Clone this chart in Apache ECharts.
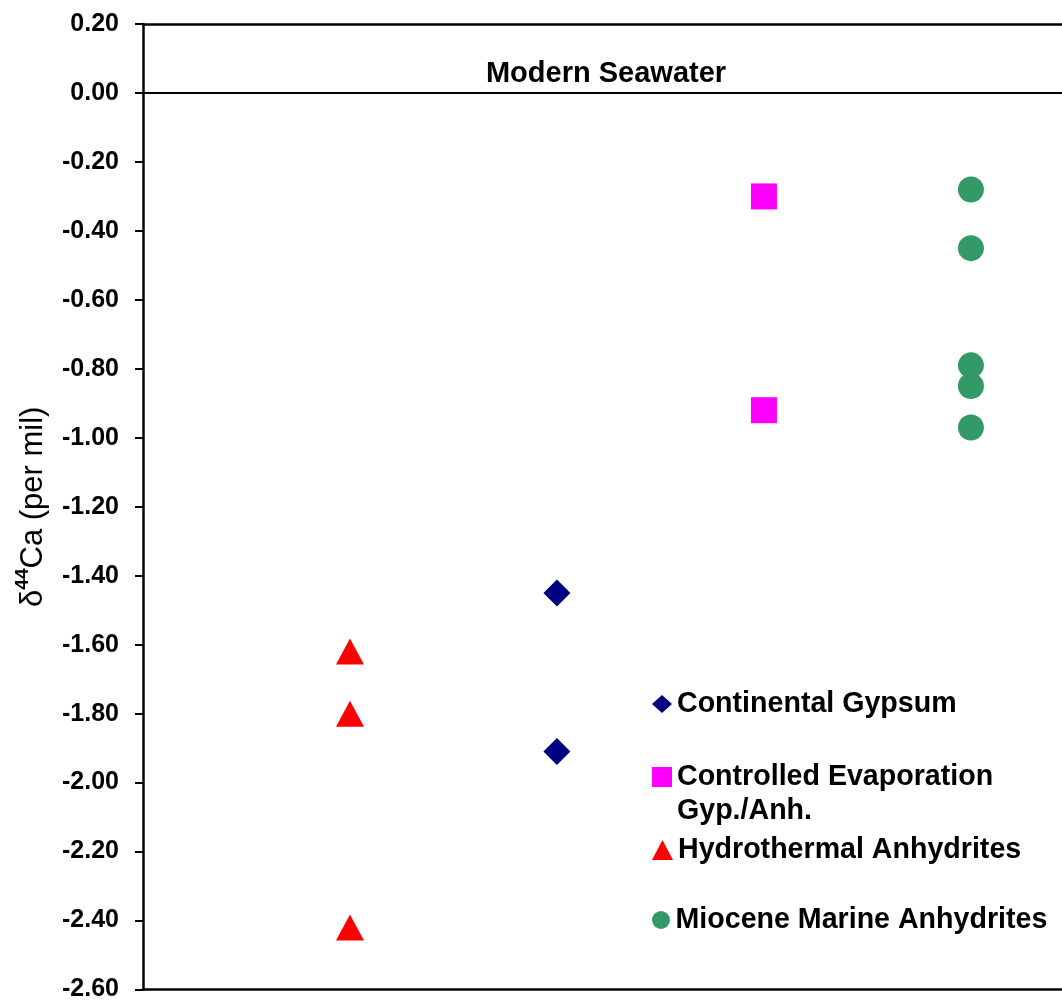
<!DOCTYPE html>
<html>
<head>
<meta charset="utf-8">
<script src="https://cdn.jsdelivr.net/npm/echarts@6/dist/echarts.min.js"></script>
<style>
html,body{margin:0;padding:0;background:#fff;}
#chart{width:1062px;height:1002px;}
</style>
</head>
<body>
<div id="chart"></div>
<script>
// ---- data ----
const seriesNames = ['Continental Gypsum', 'Controlled Evaporation Gyp./Anh.', 'Hydrothermal Anhydrites', 'Miocene Marine Anhydrites'];
const continentalGypsum = [[2, -1.45], [2, -1.91]];
const controlledEvaporation = [[3, -0.30], [3, -0.92]];
const hydrothermalAnhydrites = [[1, -1.62], [1, -1.80], [1, -2.42]];
const mioceneMarineAnhydrites = [[4, -0.28], [4, -0.45], [4, -0.79], [4, -0.85], [4, -0.97]];
const seawaterValue = 0.0;
const seawaterLabel = 'Modern Seawater';
const seawaterLabelX = 2.237;
const xMin = 0, xMax = 4.44;
const yMin = -2.6, yMax = 0.2, yStep = 0.2;

const FONT = '"Liberation Sans", Arial, sans-serif';
const colors = ['#000080', '#FF00FF', '#FF0000', '#339966'];
const symbols = ['diamond', 'rect', 'triangle', 'circle'];
const sizes = [27, 26, [28, 26], 26];
const datasets = [continentalGypsum, controlledEvaporation, hydrothermalAnhydrites, mioceneMarineAnhydrites];

const legendTops = [687, 726, 833, 903];
const legendFmt = [
  n => n,
  n => '\nControlled Evaporation\nGyp./Anh.',
  n => n,
  n => n
];
const legendIconSize = [[20, 18], [20, 20], [21, 20], [19, 18]];

const chart = echarts.init(document.getElementById('chart'), null, {renderer: 'canvas'});

const series = datasets.map((d, i) => ({
  name: seriesNames[i],
  type: 'scatter',
  data: d,
  symbol: symbols[i],
  symbolSize: sizes[i],
  itemStyle: {color: colors[i], opacity: 1},
  z: 3
}));

series.push({
  name: '__ref',
  type: 'line',
  data: [],
  silent: true,
  markLine: {
    silent: true,
    symbol: 'none',
    label: {show: false},
    lineStyle: {color: '#000', width: 2, type: 'solid'},
    data: [{yAxis: seawaterValue}]
  },
  markPoint: {
    silent: true,
    symbol: 'circle',
    symbolSize: 0,
    label: {
      show: true,
      position: 'inside',
      offset: [0, -19],
      formatter: seawaterLabel,
      color: '#000',
      fontFamily: FONT,
      fontWeight: 'bold',
      fontSize: 29
    },
    data: [{coord: [seawaterLabelX, seawaterValue]}]
  }
});

const legends = seriesNames.map((n, i) => ({
  data: [{name: n, icon: symbols[i]}],
  orient: 'vertical',
  left: 652,
  top: legendTops[i],
  padding: 0,
  itemWidth: legendIconSize[i][0],
  itemHeight: legendIconSize[i][1],
  itemGap: 0,
  selectedMode: false,
  formatter: legendFmt[i],
  textStyle: {
    fontFamily: FONT,
    fontWeight: 'bold',
    fontSize: 28.6,
    lineHeight: 34,
    color: '#000'
  }
}));

const option = {
  backgroundColor: '#fff',
  animation: false,
  legend: legends,
  grid: {
    left: 143,
    top: 24,
    right: 0,
    bottom: 9,
    show: false
  },
  xAxis: [{
    type: 'value',
    min: xMin,
    max: xMax,
    position: 'bottom',
    axisLine: {show: true, onZero: false, lineStyle: {color: '#000', width: 2.5}},
    axisTick: {show: false},
    axisLabel: {show: false},
    splitLine: {show: false}
  }, {
    type: 'value',
    min: xMin,
    max: xMax,
    position: 'top',
    axisLine: {show: true, onZero: false, lineStyle: {color: '#000', width: 2.5}},
    axisTick: {show: false},
    axisLabel: {show: false},
    splitLine: {show: false}
  }],
  yAxis: {
    type: 'value',
    min: yMin,
    max: yMax,
    interval: yStep,
    name: '{d|δ}{s|44}{d|Ca (per mil)}',
    nameLocation: 'middle',
    nameGap: 94,
    nameRotate: 90,
    nameTextStyle: {
      color: '#000',
      fontFamily: FONT,
      rich: {
        d: {fontSize: 31, fontFamily: FONT, color: '#000', verticalAlign: 'bottom', lineHeight: 36},
        s: {fontSize: 19, fontFamily: FONT, color: '#000', verticalAlign: 'top', lineHeight: 36, fontWeight: 'bold'}
      }
    },
    axisLine: {show: true, onZero: false, lineStyle: {color: '#000', width: 2.5}},
    axisTick: {show: true, inside: false, length: 8, lineStyle: {color: '#000', width: 2}},
    splitLine: {show: false},
    axisLabel: {
      margin: 24,
      color: '#000',
      fontFamily: FONT,
      fontWeight: 'bold',
      fontSize: 25,
      formatter: v => {
        const r = Math.round(v * 100) / 100;
        return (Math.abs(r) < 1e-9 ? 0 : r).toFixed(2);
      }
    }
  },
  series: series
};
chart.setOption(option);
</script>
</body>
</html>
